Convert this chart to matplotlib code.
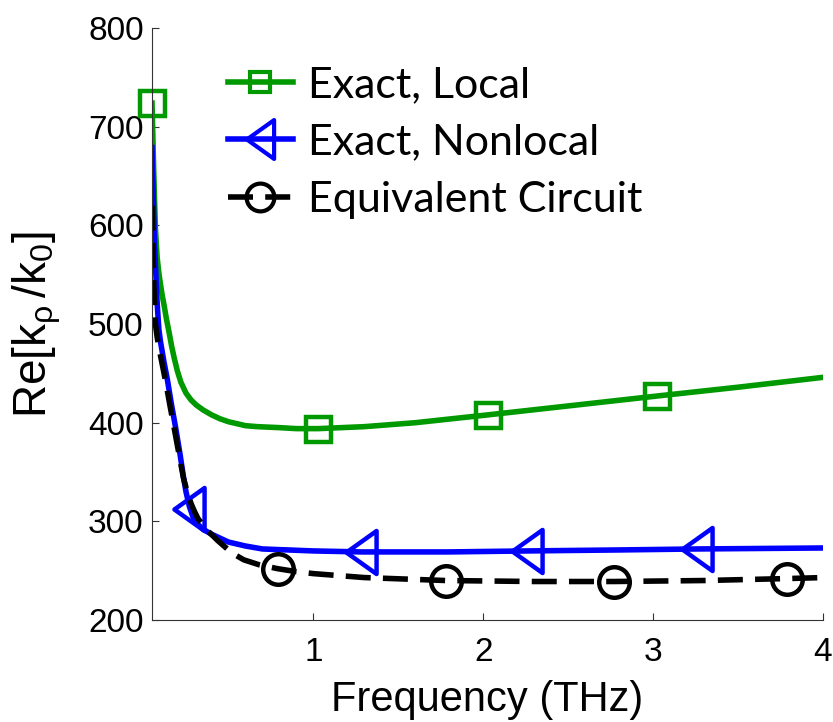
import matplotlib
matplotlib.use("Agg")
import matplotlib.pyplot as plt
from matplotlib.lines import Line2D
from matplotlib.path import Path

# Exact, local model (curve + marker points)
freq_local = [0.05, 0.055, 0.06, 0.065, 0.07, 0.08, 0.09, 0.1, 0.11, 0.12, 0.135,
              0.15, 0.165, 0.18, 0.2, 0.22, 0.25, 0.28, 0.31, 0.35, 0.4, 0.45,
              0.5, 0.55, 0.6, 0.67, 0.8, 0.9, 1.03, 1.3, 1.6, 2.03, 2.5, 3.02, 3.5, 4.0]
re_local = [724, 690, 655, 625, 597, 568, 552, 540, 529, 520, 505,
            492, 478, 466, 452, 441, 430, 423, 418, 413, 408, 404,
            401, 399, 397, 396, 395, 394, 394, 396, 400, 408, 417, 427, 436, 446]
mark_x_local = [0.05, 1.03, 2.03, 3.02]
mark_y_local = [724, 394, 408, 427]

# Exact, nonlocal model
freq_nonlocal = [0.05, 0.055, 0.06, 0.065, 0.07, 0.08, 0.09, 0.1, 0.12, 0.14, 0.165,
                 0.19, 0.215, 0.235, 0.25, 0.27, 0.29, 0.32, 0.35, 0.4, 0.45, 0.5,
                 0.6, 0.7, 0.85, 1.0, 1.28, 1.8, 2.26, 2.8, 3.26, 4.0]
re_nonlocal = [679, 645, 612, 580, 560, 522, 495, 482, 462, 444, 418,
               394, 368, 345, 330, 315, 305, 297, 292, 287, 283, 279,
               275, 272, 271, 270, 269, 269, 270, 271, 272, 273]
mark_x_nonlocal = [0.27, 1.28, 2.26, 3.26]
mark_y_nonlocal = [313, 269, 270, 272]

# Equivalent circuit
freq_circuit = [0.05, 0.055, 0.06, 0.065, 0.07, 0.08, 0.09, 0.1, 0.115, 0.13, 0.155,
                0.18, 0.21, 0.235, 0.26, 0.28, 0.3, 0.32, 0.35, 0.38, 0.44, 0.52,
                0.59, 0.68, 0.79, 0.9, 1.0, 1.3, 1.78, 2.3, 2.77, 3.3, 3.79, 4.0]
re_circuit = [620, 580, 545, 518, 500, 487, 477, 468, 455, 442, 418,
              395, 367, 344, 328, 318, 310, 303, 296, 290, 280, 268,
              261, 256, 252, 249, 247, 243, 240, 239, 239, 240, 242, 243]
mark_x_circuit = [0.79, 1.78, 2.77, 3.79]
mark_y_circuit = [252, 240, 239, 242]

labels = ["Exact, Local", "Exact, Nonlocal", "Equivalent Circuit"]
green = "#009900"
blue = "#0000ff"

plt.rcParams["font.family"] = "Liberation Sans"
plt.rcParams["mathtext.fontset"] = "custom"
plt.rcParams["mathtext.rm"] = "Liberation Sans"
plt.rcParams["mathtext.it"] = "Liberation Sans"

tri = Path([(-0.7, 0), (0.7, 1), (0.7, -1), (-0.7, 0)], closed=True)

fig = plt.figure(figsize=(8.33, 7.22), dpi=100)
ax = fig.add_axes([0.1825, 0.1413, 0.8055, 0.8197])

ax.plot(freq_local, re_local, color=green, lw=4)
ax.plot(mark_x_local, mark_y_local, ls="none", marker="s", ms=18, mfc="none",
        mec=green, mew=3.2, clip_on=False)

ax.plot(freq_nonlocal, re_nonlocal, color=blue, lw=4)
ax.plot(mark_x_nonlocal, mark_y_nonlocal, ls="none", marker=tri, ms=31, mfc="none",
        mec=blue, mew=3.2, clip_on=False)

ax.plot(freq_circuit, re_circuit, color="black", lw=4, ls=(0, (4.5, 2.2)))
ax.plot(mark_x_circuit, mark_y_circuit, ls="none", marker="o", ms=22, mfc="none",
        mec="black", mew=3.2, clip_on=False)

ax.set_xlim(0.05, 4)
ax.set_ylim(200, 800)
ax.set_xticks([1, 2, 3, 4])
ax.set_yticks([200, 300, 400, 500, 600, 700, 800])
ax.spines["top"].set_visible(False)
ax.spines["right"].set_visible(False)
for s in ["left", "bottom"]:
    ax.spines[s].set_color("#333333")
    ax.spines[s].set_linewidth(0.8)
ax.tick_params(direction="in", length=5, width=0.8, color="#333333", labelsize=24)
ax.tick_params(axis="x", pad=12)
ax.tick_params(axis="y", pad=6)

ax.set_xlabel("Frequency (THz)", fontsize=30, labelpad=9)
ax.set_ylabel(r"Re[k$_\rho\,$/k$_0$]", fontsize=33, labelpad=18)

handles = [
    Line2D([], [], color=green, lw=4, marker="s", ms=15, mfc="none", mec=green, mew=3),
    Line2D([], [], color=blue, lw=4, marker=tri, ms=28, mfc="none", mec=blue, mew=3),
    Line2D([], [], color="black", lw=4, ls=(0, (4.5, 2.2)), marker="o", ms=20,
           mfc="none", mec="black", mew=3),
]
ax.legend(handles, labels, loc="upper left", bbox_to_anchor=(228 / 833, 1 - 66 / 722),
          bbox_transform=fig.transFigure, frameon=False, borderpad=0, borderaxespad=0,
          handlelength=1.5, handletextpad=0.35, labelspacing=0.45,
          prop={"family": "Lato", "size": 31})

fig.savefig("out.png", dpi=100)
